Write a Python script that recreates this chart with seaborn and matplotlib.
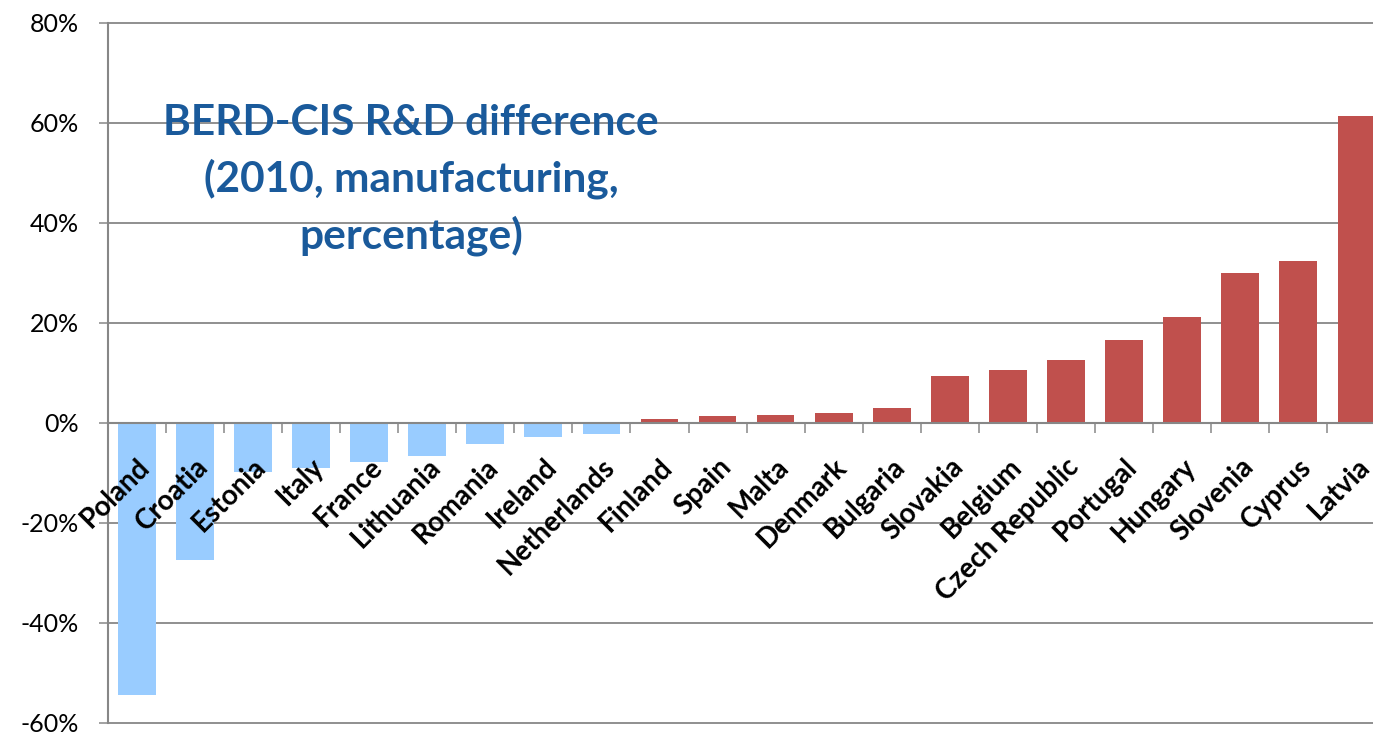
import numpy as np
import pandas as pd
import matplotlib
matplotlib.use("Agg")
import matplotlib.pyplot as plt
import seaborn as sns

# BERD-CIS R&D difference by country, manufacturing, 2010 (percent)
countries = ["Poland", "Croatia", "Estonia", "Italy", "France", "Lithuania",
             "Romania", "Ireland", "Netherlands", "Finland", "Spain", "Malta",
             "Denmark", "Bulgaria", "Slovakia", "Belgium", "Czech Republic",
             "Portugal", "Hungary", "Slovenia", "Cyprus", "Latvia"]
difference = [-54.3, -27.3, -9.7, -8.9, -7.7, -6.5, -4.1, -2.7, -2.1,
              0.8, 1.4, 1.6, 2.0, 3.0, 9.5, 10.7, 12.7, 16.7, 21.2, 30.1,
              32.5, 61.4]
y_ticks = [-60, -40, -20, 0, 20, 40, 60, 80]
y_tick_labels = ["-60%", "-40%", "-20%", "0%", "20%", "40%", "60%", "80%"]
title_text = "BERD-CIS R&D difference\n(2010, manufacturing,\npercentage)"

NEG_COLOR = "#99CCFF"
POS_COLOR = "#C0504D"
GRID_COLOR = "#878787"

df = pd.DataFrame({"country": countries, "difference": difference})
bar_colors = [NEG_COLOR if v < 0 else POS_COLOR for v in difference]

sns.set_style("white")
plt.rcParams["font.family"] = ["Lato", "DejaVu Sans"]

W, H = 1373, 734
fig = plt.figure(figsize=(W / 100, H / 100), dpi=100)
n = len(countries)
cat_w = 58.08
left_px, bottom_px, top_px = 107.7, 11, 23
ax = fig.add_axes([left_px / W, bottom_px / H, n * cat_w / W, (H - bottom_px - top_px) / H])

sns.barplot(data=df, x="country", y="difference", hue="country",
            palette=bar_colors, legend=False, width=0.65, saturation=1,
            linewidth=0, ax=ax)

ax.set_xlim(-0.5, n - 0.5)
ax.set_ylim(-60, 80)
ax.set_xlabel("")
ax.set_ylabel("")

# y axis: percentage ticks with horizontal gridlines behind the bars
ax.set_yticks(y_ticks, y_tick_labels)
ax.tick_params(axis="y", direction="out", length=6.5, width=1.1,
               color=GRID_COLOR, pad=14, labelsize=18, labelcolor="black",
               left=True)
ax.set_axisbelow(True)
ax.yaxis.grid(True, color=GRID_COLOR, linewidth=1.3)
for gl in ax.get_ygridlines():
    gl.set_clip_on(False)

# category axis crosses at zero; tick marks sit between categories,
# and its labels are drawn over the bars
ax.xaxis.set_zorder(3)
ax.spines["bottom"].set_position(("data", 0))
for side in ["top", "right"]:
    ax.spines[side].set_visible(False)
for side in ["left", "bottom"]:
    ax.spines[side].set_color(GRID_COLOR)
    ax.spines[side].set_linewidth(1.5)

ax.set_xticks(range(n), countries)
ax.set_xticks(np.arange(-0.5, n, 1.0), minor=True)
ax.tick_params(axis="x", which="major", length=0, pad=22, labelsize=20,
               labelcolor="black", bottom=True)
ax.tick_params(axis="x", which="minor", direction="out", length=7,
               width=1.1, color=GRID_COLOR, bottom=True)
for lab in ax.get_xticklabels():
    lab.set_rotation(45)
    lab.set_horizontalalignment("right")
    lab.set_verticalalignment("top")
    lab.set_rotation_mode("anchor")
    lab.set_fontweight("bold")

fig.text(411 / W, 1 - 104 / H, title_text, ha="center", va="top",
         multialignment="center", fontsize=30.5, fontweight="bold",
         color="#1A5A9B", linespacing=1.5)

fig.savefig("out.png", dpi=100)
